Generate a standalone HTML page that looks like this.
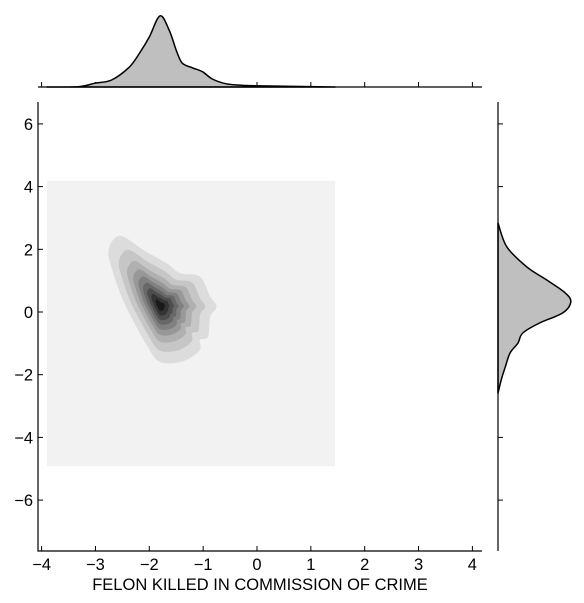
<!DOCTYPE html>
<html><head><meta charset="utf-8">
<style>
html,body{margin:0;padding:0;background:#fff;}
svg{display:block;font-family:"Liberation Sans",sans-serif;}
text{fill:#000;}
</style></head>
<body>
<svg id="chart" width="584" height="603" viewBox="0 0 584 603" xmlns="http://www.w3.org/2000/svg"></svg>
<script>
// ---- data ----
const xTicks = [-4,-3,-2,-1,0,1,2,3,4];
const yTicks = [6,4,2,0,-2,-4,-6];
const xLabel = "FELON KILLED IN COMMISSION OF CRIME";
const gridX = [-3.9, 1.45];
const gridY = [-4.92, 4.18];
// top marginal density (x values, density)
const topX = [-3.9,-3.3,-3.02,-2.7,-2.37,-2.18,-2.0,-1.8,-1.63,-1.5,-1.39,-1.2,-1.01,-0.83,-0.57,-0.2,0.23,1.45];
const topD = [0,0.005,0.046,0.088,0.25,0.425,0.625,0.89,0.71,0.46,0.30,0.24,0.19,0.10,0.04,0.019,0.012,0];
// right marginal density (y values, density)
const rightY = [2.84,2.08,1.44,1.02,0.61,0.32,-0.03,-0.35,-0.67,-0.99,-1.31,-1.76,-2.17,-2.59];
const rightD = [0,0.11,0.36,0.61,0.84,0.91,0.81,0.52,0.31,0.25,0.15,0.09,0.04,0];
// outer KDE contour (data coords)
const contourX = [-2.67,-2.49,-2.11,-1.68,-1.43,-1.06,-0.87,-0.75,-0.87,-0.91,-1.06,-1.06,-1.31,-1.62,-1.86,-2.05,-2.24,-2.49,-2.67,-2.76];
const contourY = [2.30,2.41,1.98,1.56,1.24,1.13,0.49,0.17,-0.15,-0.79,-0.89,-1.21,-1.53,-1.64,-1.53,-1.05,-0.47,0.38,1.24,1.88];
const peak = [-1.8, 0.2];
const levelScale = [1,0.8,0.64,0.52,0.42,0.33,0.25,0.17,0.09];
const levelColor = ["#dcdcdc","#c6c6c6","#b0b0b0","#989898","#808080","#686868","#4e4e4e","#343434","#1a1a1a"];

// ---- axes ----
const L=38,R=482,T=102,B=551;
const sx = v => 257 + v*53.85;
const sy = v => 312 - v*31.35;
const NS="http://www.w3.org/2000/svg";
const svg=document.getElementById('chart');
function mk(tag,attrs,parent){const e=document.createElementNS(NS,tag);for(const k in attrs)e.setAttribute(k,attrs[k]);(parent||svg).appendChild(e);return e;}
// smooth path through points (Catmull-Rom)
function smooth(pts,closed){
  const n=pts.length;let d='M'+pts[0][0].toFixed(1)+','+pts[0][1].toFixed(1);
  const g=i=>closed?pts[(i+n)%n]:pts[Math.max(0,Math.min(n-1,i))];
  const m=closed?n:n-1;
  for(let i=0;i<m;i++){
    const p0=g(i-1),p1=g(i),p2=g(i+1),p3=g(i+2);
    const c1=[p1[0]+(p2[0]-p0[0])/6,p1[1]+(p2[1]-p0[1])/6];
    const c2=[p2[0]-(p3[0]-p1[0])/6,p2[1]-(p3[1]-p1[1])/6];
    d+=` C${c1[0].toFixed(1)},${c1[1].toFixed(1)} ${c2[0].toFixed(1)},${c2[1].toFixed(1)} ${p2[0].toFixed(1)},${p2[1].toFixed(1)}`;
  }
  return closed?d+'Z':d;
}

let bg=mk('rect',{x:sx(gridX[0]),y:sy(gridY[1]),width:sx(gridX[1])-sx(gridX[0]),height:sy(gridY[0])-sy(gridY[1]),fill:'#f2f2f2'});



const cg=mk('g',{});


levelScale.forEach((s,i)=>{
  const pts=contourX.map((x,j)=>{
    const dx=peak[0]+(x-peak[0])*s, dy=peak[1]+(contourY[j]-peak[1])*s;
    return [sx(dx),sy(dy)];
  });
  const p=mk('path',{d:smooth(pts,true),fill:levelColor[i]},cg);
  
  
});

const sp=mk('path',{d:`M${L},${T}V${B}H${R}`,stroke:'#000','stroke-width':1.2,fill:'none'});



xTicks.forEach(v=>{
  const x=sx(v);
  const t=mk('line',{x1:x,x2:x,y1:B,y2:B-5,stroke:'#000'});
  
  
  const lb=mk('text',{x:x,y:B+19,'text-anchor':'middle','font-size':16.5});
  lb.textContent=String(v).replace('-','\u2212');
  
  
  const tt=mk('line',{x1:x,x2:x,y1:87,y2:82,stroke:'#000'});
  
  
});
yTicks.forEach(v=>{
  const y=sy(v);
  const t=mk('line',{x1:L,x2:L+5,y1:y,y2:y,stroke:'#000'});
  
  
  const lb=mk('text',{x:33,y:y+6,'text-anchor':'end','font-size':16.5});
  lb.textContent=String(v).replace('-','\u2212');
  
  
  const rt=mk('line',{x1:498,x2:503,y1:y,y2:y,stroke:'#000'});
  
  
});
const xl=mk('text',{x:260,y:590,'text-anchor':'middle','font-size':16.5});
xl.textContent=xLabel;



const topScale=80, topBase=87;
const tp=topX.map((x,i)=>[sx(x),topBase-topD[i]*topScale]);
const tf=mk('path',{d:smooth(tp,false)+' Z',fill:'#bfbfbf',stroke:'#000','stroke-width':1.5,'stroke-linejoin':'round'});


const tl=mk('line',{x1:L,x2:R,y1:topBase,y2:topBase,stroke:'#000','stroke-width':1.2});



const rBase=498, rScale=80;
const rp=rightY.map((y,i)=>[rBase+rightD[i]*rScale,sy(y)]);
const rf=mk('path',{d:smooth(rp,false)+' Z',fill:'#bfbfbf',stroke:'#000','stroke-width':1.5,'stroke-linejoin':'round'});


const rl=mk('line',{x1:rBase,x2:rBase,y1:T,y2:B,stroke:'#000','stroke-width':1.2});


</script>
</body></html>
